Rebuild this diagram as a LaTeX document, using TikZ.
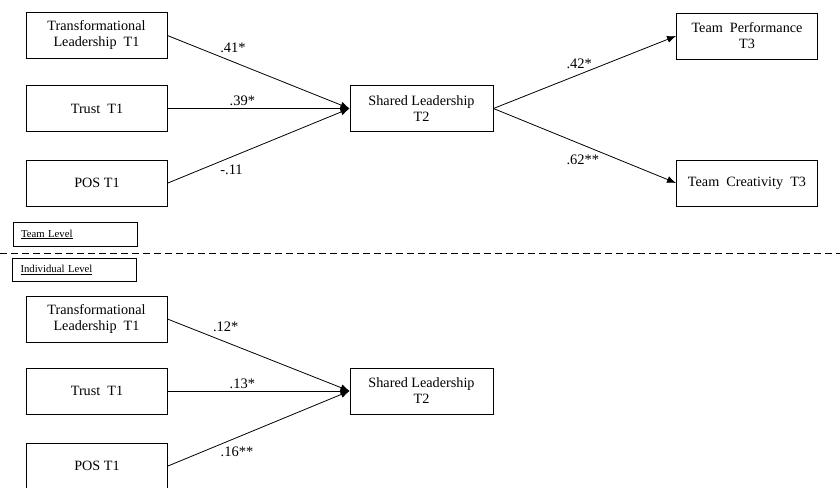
\documentclass[tikz,border=0pt]{standalone}
\usepackage{fontspec}
\setmainfont{Liberation Serif}
\usetikzlibrary{arrows.meta}

\begin{document}
\begin{tikzpicture}
    [x=1pt, y=-1pt,
    % Measured variables
    var/.style={rectangle, draw, line width=0.9pt, align=center, minimum width=141pt, minimum height=46pt, inner sep=0pt, font=\fontsize{14.2}{16}\selectfont},
    % Level tags
    level/.style={rectangle, draw, line width=0.9pt, align=left, text width=108pt, inner xsep=8pt, minimum height=23.5pt, font=\fontsize{10.7}{12}\selectfont},
    % Paths and coefficients
    path/.style={draw, line width=0.8pt, -{Latex[length=9pt,width=7pt]}},
    coef/.style={inner sep=0pt, font=\fontsize{14.5}{16}\selectfont}]
    \useasboundingbox (0,0) rectangle (840,487);

    % Team level
    \node [var] (tlA)   at (96.5,35.5)  {Transformational\\Leadership\ \ T1};
    \node [var] (trA)   at (97,108.5)   {Trust\ \ T1};
    \node [var] (posA)  at (97,183)     {POS T1};
    \node [var, minimum width=143pt] (slA) at (421.5,108.5) {Shared Leadership\\T2};
    \node [var] (perf)  at (747,36)     {Team\ \ Performance\\T3};
    \node [var] (crea)  at (747,183)    {Team\ \ Creativity\ \ T3};

    \draw [path] (tlA.east)  -- node [coef, pos=0.36, yshift=14pt]  {.41*}  (slA.west);
    \draw [path] (trA.east)  -- node [coef, pos=0.41, yshift=7.5pt] {.39*}  (slA.west);
    \draw [path] (posA.east) -- node [coef, pos=0.35, yshift=-13pt] {-.11}  (slA.west);
    \draw [path] (slA.east)  -- node [coef, pos=0.47, yshift=11pt]  {.42*}  (perf.west);
    \draw [path] (slA.east)  -- node [coef, pos=0.49, yshift=-15pt] {.62**} (crea.west);

    % Separator
    \node [level] (team) at (75,234.5) {\underline{Team Level}};
    \draw [line width=0.9pt, dash pattern=on 7pt off 4pt] (0,253) -- (840,253);
    \node [level] (indiv) at (74.5,270) {\underline{Individual Level}};

    % Individual level
    \node [var] (tlB)   at (96.5,319)   {Transformational\\Leadership\ \ T1};
    \node [var] (trB)   at (97,391)     {Trust\ \ T1};
    \node [var] (posB)  at (97,466)     {POS T1};
    \node [var, minimum width=143pt] (slB) at (421.5,391) {Shared Leadership\\T2};

    \draw [path] (tlB.east)  -- node [coef, pos=0.32, yshift=15pt]  {.12*}  (slB.west);
    \draw [path] (trB.east)  -- node [coef, pos=0.41, yshift=7.5pt] {.13*}  (slB.west);
    \draw [path] (posB.east) -- node [coef, pos=0.38, yshift=-14pt] {.16**} (slB.west);
\end{tikzpicture}
\end{document}
